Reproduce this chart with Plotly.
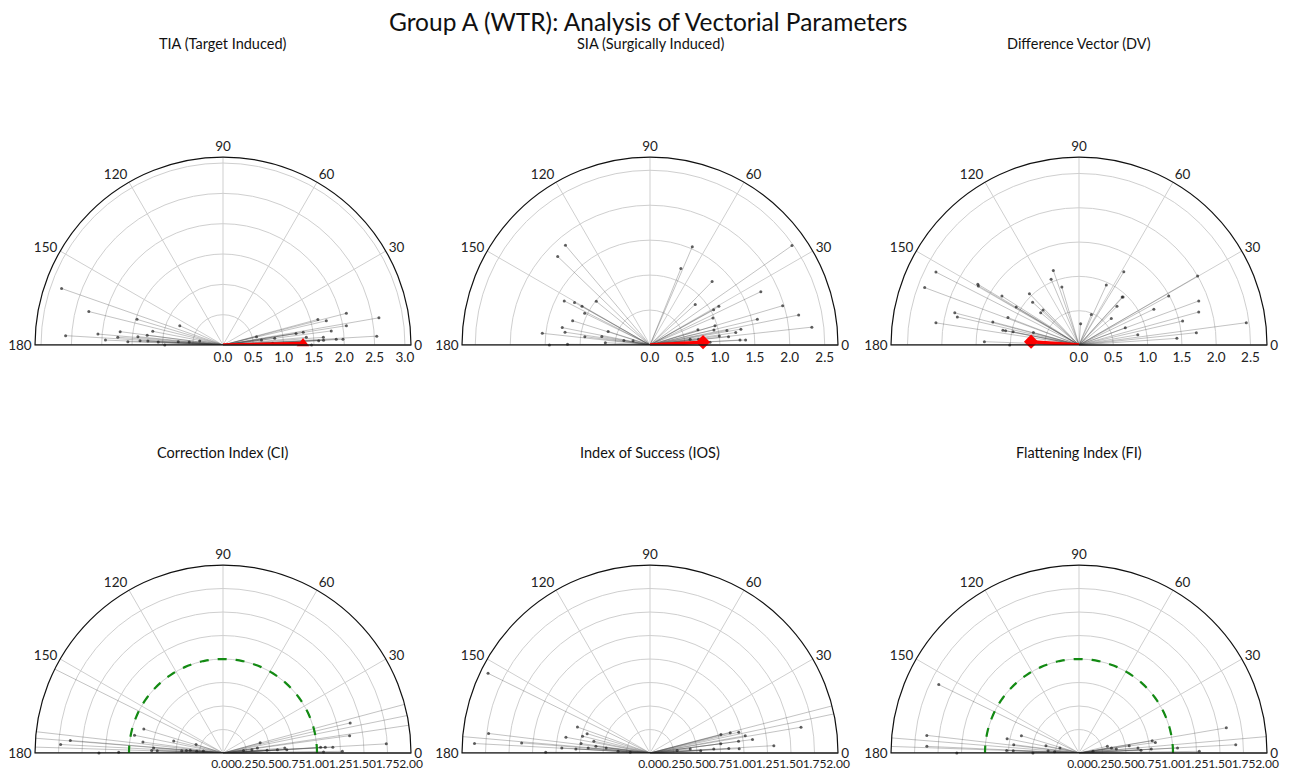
import plotly.graph_objects as go

W, H = 1296, 777
FONT = "Lato"

# ---------------- data (r, theta in degrees) ----------------
tia_r = [2.82, 2.28, 2.60, 2.07, 1.94, 1.71, 1.74, 1.57, 1.48, 1.41, 1.37, 1.26, 1.24, 1.18, 1.07, 0.96,
         0.78, 0.74, 0.56, 0.39,
         2.61, 2.54, 2.10, 2.06, 1.98, 1.80, 1.75, 1.62, 1.87, 1.66, 1.66, 1.58, 1.38, 1.34, 1.22, 1.46,
         0.86, 0.82, 0.64, 0.57]
tia_t = [160.7, 166.0, 176.6, 175.0, 177.6, 172.6, 175.8, 178.0, 163.4, 174.4, 177.0, 172.7, 177.0, 169.0, 177.4, 180.0,
         156.0, 176.0, 175.0, 170.0,
         9.9, 3.3, 14.4, 8.9, 2.7, 7.4, 13.2, 15.1, 2.9, 4.4, 2.7, 2.6, 5.3, 9.0, 9.0, 0.0,
         7.4, 2.0, 7.4, 14.0]

sia_r = [1.87, 1.83, 1.38, 1.24, 1.12, 1.04, 0.99, 1.16, 1.28, 1.23, 1.55, 1.44, 1.18, 0.94, 0.64, 0.63, 0.70, 0.38, 0.25,
         2.48, 2.33, 2.17, 1.98, 1.76, 1.58, 1.37, 1.29, 1.32, 1.24, 1.12, 1.13, 0.94, 0.97, 1.13, 1.04, 0.98,
         1.27, 0.87, 1.53, 1.18, 0.72, 0.70, 0.58, 0.86, 1.00]
sia_t = [130.3, 136.2, 152.8, 150.6, 150.3, 154.0, 140.9, 162.6, 168.8, 171.4, 173.8, 180.0, 179.5, 172.7, 177.0, 162.0, 170.0, 170.0, 166.0,
         35.0, 6.3, 11.4, 16.5, 25.7, 13.5, 3.0, 3.2, 9.9, 8.3, 10.7, 6.0, 13.3, 16.5, 29.3, 28.9, 23.3,
         45.6, 41.9, 66.7, 68.0, 17.6, 6.7, 8.0, 2.6, 7.4]

dv_r = [2.34, 2.40, 1.72, 1.70, 1.87, 1.82, 2.11, 1.30, 1.33, 1.07, 1.11, 1.13, 1.09, 0.98, 1.38, 1.01,
        1.04, 0.92, 0.73, 0.73, 1.15, 1.04, 0.88, 0.69,
        2.46, 1.86, 1.81, 2.00, 1.72, 1.55, 1.43, 1.49, 1.21, 0.87, 0.72, 1.25, 0.94, 0.95, 0.96, 0.79,
        0.61, 0.48, 0.31]
dv_t = [153.0, 159.6, 149.0, 149.6, 165.5, 167.0, 171.2, 165.0, 147.6, 148.8, 158.9, 169.0, 169.0, 168.6, 178.0, 180.0,
        134.0, 137.3, 139.8, 135.8, 109.0, 113.0, 106.5, 164.6,
        7.6, 20.2, 15.4, 30.2, 6.0, 13.0, 3.9, 28.7, 25.6, 9.9, 20.4, 58.5, 48.0, 47.5, 65.5, 45.5,
        39.5, 68.0, 85.6]

ci_r = [1.73, 1.63, 1.32, 1.11, 0.88, 0.96, 0.86, 0.54, 0.74, 0.76, 0.70, 0.30, 0.39, 0.35, 0.44, 0.21, 0.28,
        2.40, 2.30, 2.20, 2.50,
        1.39, 1.36, 1.74, 1.17, 1.09, 1.04, 1.07, 1.27, 0.68, 0.58, 0.41, 0.37, 0.31, 0.66, 0.47, 0.22,
        2.30, 2.40, 2.20]
ci_t = [177.0, 175.3, 180.0, 179.6, 163.2, 168.7, 172.2, 166.3, 175.9, 178.0, 178.0, 162.6, 176.0, 175.0, 177.0, 174.0, 176.0,
        153.5, 173.5, 175.5, 178.2,
        13.3, 7.8, 3.2, 3.0, 3.2, 3.3, 0.5, 0.8, 3.0, 3.5, 15.3, 8.4, 6.5, 4.7, 3.5, 7.0,
        15.0, 11.5, 8.5]

ios_r = [1.92, 1.73, 1.87, 1.37, 1.11, 0.82, 0.70, 0.74, 0.91, 0.61, 0.74, 0.58, 0.79, 0.94, 0.66, 0.47, 0.34, 0.21,
         2.30,
         1.63, 1.32, 1.10, 1.03, 0.97, 0.88, 0.78, 0.95, 0.84, 0.95, 0.76, 0.68, 0.54, 0.43, 0.29,
         2.20, 2.40]
ios_t = [153.8, 173.1, 176.9, 175.5, 179.6, 160.3, 162.9, 166.0, 169.4, 168.2, 172.2, 173.0, 176.9, 176.7, 175.4, 173.4, 177.0, 178.0,
         175.0,
         9.7, 3.4, 7.5, 10.3, 13.2, 14.1, 14.7, 2.8, 3.2, 7.5, 7.5, 3.6, 2.6, 5.7, 5.0,
         12.0, 14.5]

fi_r = [1.66, 1.63, 1.62, 1.30, 0.78, 0.64, 0.70, 0.77, 0.70, 0.49, 0.36, 0.21, 0.33, 0.26,
        2.20, 2.40,
        1.59, 1.67, 1.28, 1.05, 0.79, 0.82, 0.77, 0.66, 0.54, 0.63, 0.40, 0.35, 0.31, 0.15,
        2.30]
fi_t = [154.0, 173.4, 177.5, 180.0, 168.7, 163.3, 172.7, 178.0, 178.0, 180.0, 167.6, 165.0, 176.0, 177.0,
        175.4, 178.0,
        9.7, 3.0, 0.8, 2.9, 9.5, 7.9, 3.1, 2.5, 8.3, 4.8, 6.1, 8.8, 13.4, 6.8,
        5.0]

# mean vectors (top row)
mean_r = {"TIA": 1.32, "SIA": 0.76, "DV": 0.70}
mean_t = {"TIA": 1.0, "SIA": 3.0, "DV": 176.0}

TARGET_INDEX = 1.0
ANGLE_TICKS = [0, 30, 60, 90, 120, 150, 180]

panels = [
    dict(key="TIA", title="TIA (Target Induced)", r=tia_r, t=tia_t, rmax=3.1, dtick=0.5, fmt=".1f",
         cx=223, cy=345, mean=True, sym="triangle-up", target=False),
    dict(key="SIA", title="SIA (Surgically Induced)", r=sia_r, t=sia_t, rmax=2.69, dtick=0.5, fmt=".1f",
         cx=650, cy=345, mean=True, sym="diamond", target=False),
    dict(key="DV", title="Difference Vector (DV)", r=dv_r, t=dv_t, rmax=2.74, dtick=0.5, fmt=".1f",
         cx=1079, cy=345, mean=True, sym="diamond", target=False),
    dict(key="CI", title="Correction Index (CI)", r=ci_r, t=ci_t, rmax=2.0, dtick=0.25, fmt=".2f",
         cx=223, cy=753, mean=False, target=True),
    dict(key="IOS", title="Index of Success (IOS)", r=ios_r, t=ios_t, rmax=2.0, dtick=0.25, fmt=".2f",
         cx=650, cy=753, mean=False, target=False),
    dict(key="FI", title="Flattening Index (FI)", r=fi_r, t=fi_t, rmax=2.0, dtick=0.25, fmt=".2f",
         cx=1079, cy=753, mean=False, target=True),
]

R_PX = 188
GRID = "#cfcfcf"


def fx(px):  # pixel x -> paper fraction
    return px / W


def fy(py):  # pixel y (from top) -> paper fraction
    return 1 - py / H


fig = go.Figure()
layout = dict(
    width=W, height=H, margin=dict(l=0, r=0, t=0, b=0),
    paper_bgcolor="white", plot_bgcolor="white", showlegend=False,
    font=dict(family=FONT, size=13, color="#222222"),
    annotations=[],
)

for i, p in enumerate(panels):
    name = "polar" if i == 0 else f"polar{i+1}"
    sub = name
    layout[name] = dict(
        domain=dict(x=[fx(p["cx"] - R_PX), fx(p["cx"] + R_PX)],
                    y=[fy(p["cy"]), fy(p["cy"] - R_PX)]),
        sector=[0, 180],
        bgcolor="white",
        radialaxis=dict(
            range=[0, p["rmax"]], dtick=p["dtick"], tick0=0, tickformat=p["fmt"],
            showline=True, linecolor="#222222", linewidth=1.2,
            showgrid=True, gridcolor=GRID, gridwidth=0.8,
            ticks="", angle=0, tickangle=0, side="clockwise",
            tickfont=dict(family=FONT, size=13.5 if p["dtick"] == 0.5 else 12, color="#222222"),
        ),
        angularaxis=dict(
            direction="counterclockwise", rotation=0,
            tickmode="array", tickvals=ANGLE_TICKS, ticktext=[str(a) for a in ANGLE_TICKS],
            showline=True, linecolor="#111111", linewidth=1.2,
            showgrid=True, gridcolor=GRID, gridwidth=0.8, ticks="",
            tickfont=dict(family=FONT, size=13.5, color="#222222"),
        ),
    )

    # spine on the 180 side
    fig.add_trace(go.Scatterpolar(
        r=[0, p["rmax"]], theta=[180, 180], mode="lines",
        line=dict(color="#222222", width=1.2), subplot=sub, hoverinfo="skip"))

    # radial lines origin -> data point
    rr, tt = [], []
    for r, t in zip(p["r"], p["t"]):
        rr += [0, r, None]
        tt += [t, t, None]
    fig.add_trace(go.Scatterpolar(
        r=rr, theta=tt, mode="lines",
        line=dict(color="rgba(60,60,60,0.35)", width=0.9), subplot=sub, hoverinfo="skip"))
    fig.add_trace(go.Scatterpolar(
        r=p["r"], theta=p["t"], mode="markers",
        marker=dict(color="rgba(30,30,30,0.7)", size=3), subplot=sub))

    if p["target"]:
        th = list(range(0, 181, 2))
        fig.add_trace(go.Scatterpolar(
            r=[TARGET_INDEX] * len(th), theta=th, mode="lines",
            line=dict(color="#138a13", width=2.2, dash="dash"), subplot=sub, hoverinfo="skip"))

    if p["mean"]:
        mr, mt = mean_r[p["key"]], mean_t[p["key"]]
        fig.add_trace(go.Scatterpolar(
            r=[0, mr], theta=[mt, mt], mode="lines",
            line=dict(color="#ff0000", width=3.5), subplot=sub, hoverinfo="skip"))
        fig.add_trace(go.Scatterpolar(
            r=[mr], theta=[mt], mode="markers",
            marker=dict(color="#ff0000", size=11, symbol=p["sym"]), subplot=sub, hoverinfo="skip"))

    layout["annotations"].append(dict(
        text=p["title"], x=fx(p["cx"]), y=fy(44 if p["cy"] < 500 else 452),
        xref="paper", yref="paper", xanchor="center", yanchor="middle", showarrow=False,
        font=dict(family=FONT, size=14.5, color="#111111")))

layout["annotations"].append(dict(
    text="Group A (WTR): Analysis of Vectorial Parameters", x=fx(648), y=fy(22),
    xref="paper", yref="paper", xanchor="center", yanchor="middle", showarrow=False,
    font=dict(family=FONT, size=24.5, color="#111111")))

fig.update_layout(**layout)
fig.write_html("out.html", config={"displayModeBar": False},
               post_script="document.body.style.margin='0';document.body.style.overflow='hidden';")
